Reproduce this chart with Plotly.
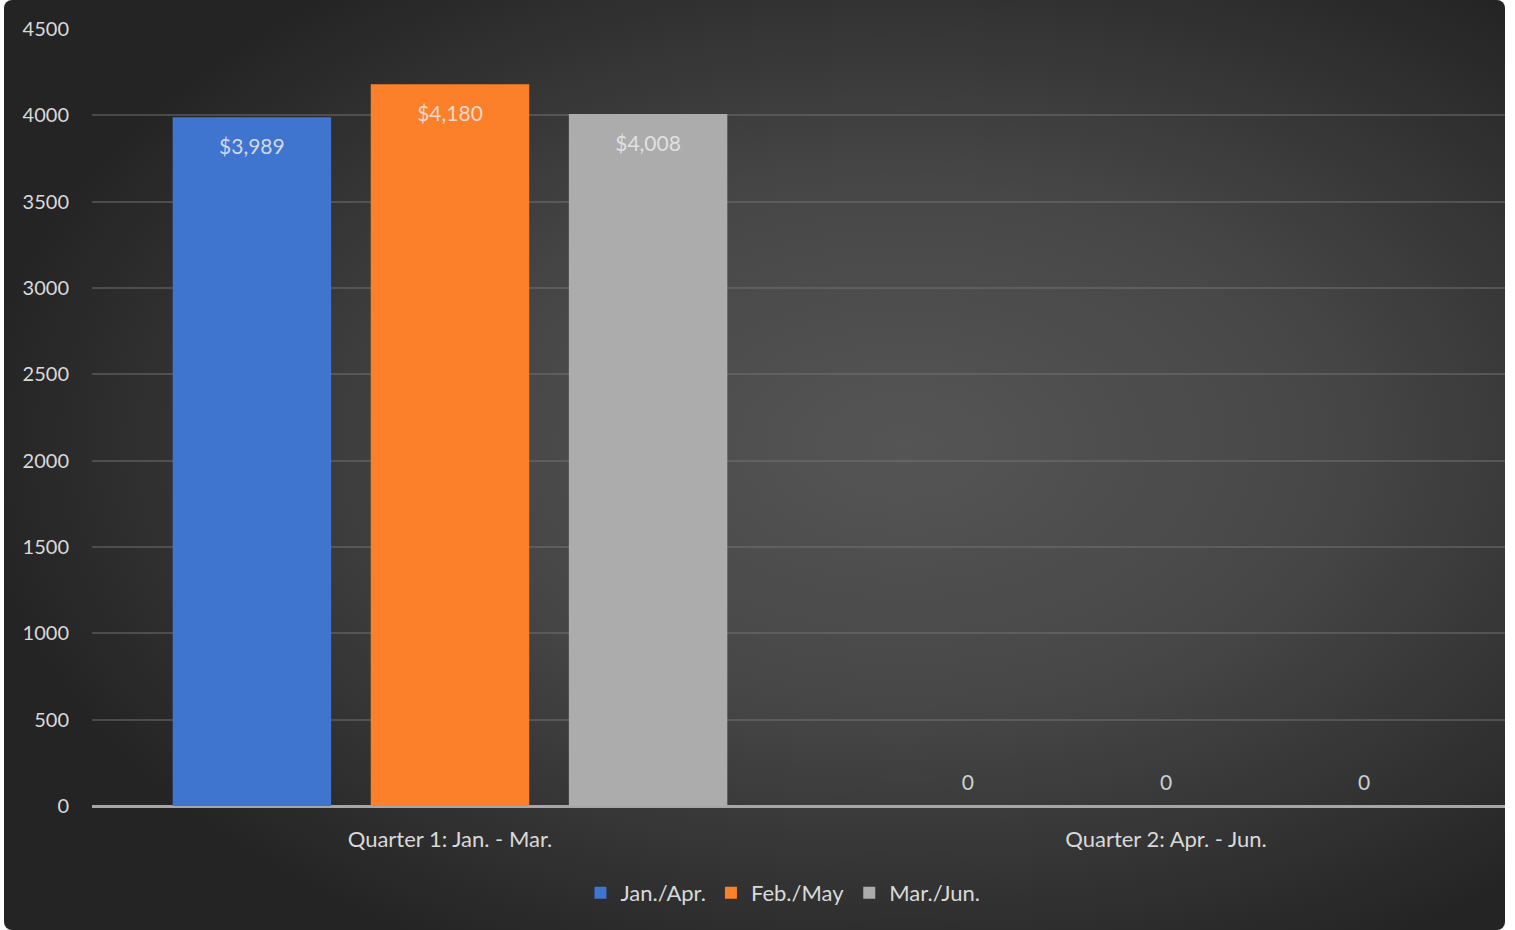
import plotly.graph_objects as go

categories = ["Quarter 1: Jan. - Mar.", "Quarter 2: Apr. - Jun."]
series_names = ["Jan./Apr.", "Feb./May", "Mar./Jun."]
jan_apr = [3989, 0]
feb_may = [4180, 0]
mar_jun = [4008, 0]
series_values = [jan_apr, feb_may, mar_jun]
y_ticks = [0, 500, 1000, 1500, 2000, 2500, 3000, 3500, 4000, 4500]

colors = ["#3f74cf", "#fc7f2a", "#acacac"]
FONT = "Lato"
TXT = "#d9d9d9"

W, H = 1515, 930
ML, MR, MT, MB = 92, 10, 29, 124

fig = go.Figure()
for i, (name, vals) in enumerate(zip(series_names, series_values)):
    fig.add_trace(go.Bar(
        x=categories, y=vals, name=name,
        marker=dict(color=colors[i], line=dict(width=0)),
        offsetgroup=str(i), alignmentgroup="g",
        hoverinfo="skip",
    ))
for i, (name, vals) in enumerate(zip(series_names, series_values)):
    labels = [f"${v:,}" if v else "0" for v in vals]
    fig.add_trace(go.Scatter(
        x=categories, y=vals, mode="markers+text", text=labels,
        textposition=["bottom center" if v else "top center" for v in vals],
        textfont=dict(family=FONT, size=21, color="rgba(235,235,235,0.85)"),
        marker=dict(size=[32 if v else 16 for v in vals], color="rgba(0,0,0,0)",
                    opacity=0, line=dict(width=0, color="rgba(0,0,0,0)")),
        offsetgroup=str(i), alignmentgroup="g",
        showlegend=False, hoverinfo="skip",
    ))

svg = (
    "<svg xmlns='http://www.w3.org/2000/svg' width='1501' height='930'>"
    "<defs><radialGradient id='g' cx='0.6' cy='0.48' r='0.62' gradientUnits='objectBoundingBox'>"
    "<stop offset='0' stop-color='%23555555'/><stop offset='0.45' stop-color='%23474747'/>"
    "<stop offset='1' stop-color='%23242424'/></radialGradient></defs>"
    "<rect x='0' y='0' width='1501' height='930' rx='8' ry='8' fill='url(%23g)'/></svg>"
)
pw = W - ML - MR
ph = H - MT - MB
fig.add_layout_image(dict(
    source="data:image/svg+xml;charset=utf-8," + svg,
    xref="paper", yref="paper",
    x=(4 - ML) / pw, y=1 + MT / ph,
    sizex=1501 / pw, sizey=H / ph,
    xanchor="left", yanchor="top", sizing="stretch", layer="below",
))

fig.update_layout(
    width=W, height=H,
    margin=dict(l=ML, r=MR, t=MT, b=MB),
    paper_bgcolor="white", plot_bgcolor="rgba(0,0,0,0)",
    barmode="group", bargap=0.17, bargroupgap=0.2,
    scattermode="group", scattergap=0.17,
    font=dict(family=FONT, size=20, color=TXT),
    showlegend=True,
    legend=dict(orientation="h", x=0.489, xanchor="center", y=-0.085, yanchor="top",
                font=dict(family=FONT, size=22, color=TXT), itemwidth=30,
                bgcolor="rgba(0,0,0,0)", traceorder="normal"),
    xaxis=dict(range=[-0.5, 1.4735], showgrid=False, ticks="", showline=False,
               ticklabelstandoff=18,
               tickfont=dict(family=FONT, size=22, color=TXT), zeroline=False),
    yaxis=dict(range=[0, 4500], tickvals=y_ticks, showgrid=True,
               gridcolor="rgba(120,120,120,0.45)", gridwidth=1.5,
               zeroline=True, zerolinecolor="#a6a6a6", zerolinewidth=2.5,
               ticks="", ticklabelstandoff=22,
               tickfont=dict(family=FONT, size=20, color=TXT)),
)

fig.write_html("out.html")
